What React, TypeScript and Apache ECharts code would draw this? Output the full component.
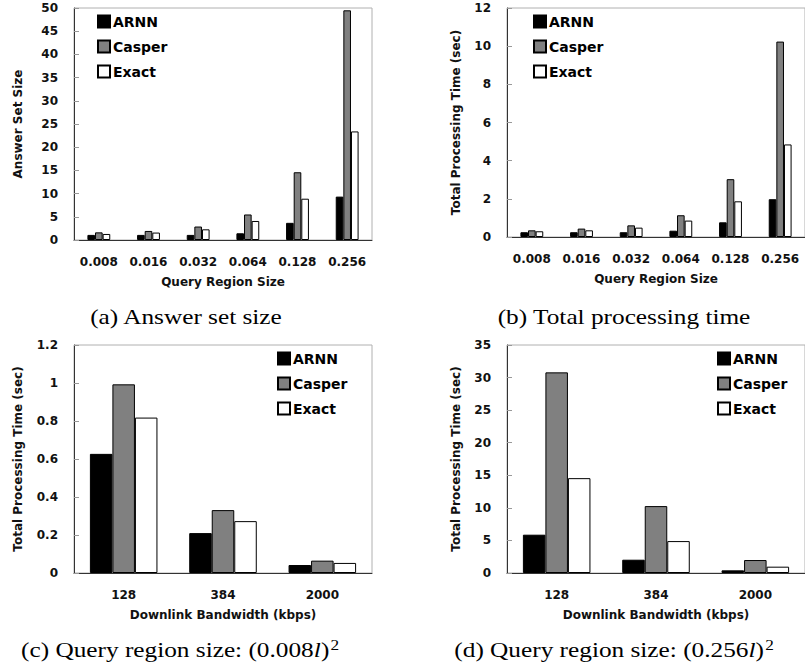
import React, { useEffect, useRef } from "react";
import * as echarts from "echarts";

const seriesNames = ["ARNN", "Casper", "Exact"];
const regionSizes = ["0.008", "0.016", "0.032", "0.064", "0.128", "0.256"];
const bandwidths = ["128", "384", "2000"];

// (a) Answer set size
const answerArnn = [1.1, 1.1, 1.1, 1.45, 3.7, 9.35];
const answerCasper = [1.65, 1.95, 2.9, 5.5, 14.6, 49.5];
const answerExact = [1.3, 1.6, 2.3, 4.1, 8.9, 23.4];

// (b) Total processing time vs region size
const timeArnn = [0.25, 0.25, 0.25, 0.33, 0.77, 1.98];
const timeCasper = [0.35, 0.44, 0.61, 1.14, 3.03, 10.24];
const timeExact = [0.3, 0.35, 0.49, 0.86, 1.87, 4.85];

// (c) region (0.008l)^2 vs bandwidth
const bwSmallArnn = [0.627, 0.21, 0.042];
const bwSmallCasper = [0.993, 0.331, 0.065];
const bwSmallExact = [0.818, 0.273, 0.053];

// (d) region (0.256l)^2 vs bandwidth
const bwLargeArnn = [5.88, 2.04, 0.41];
const bwLargeCasper = [30.8, 10.27, 1.99];
const bwLargeExact = [14.56, 4.9, 0.97];

const captions = [
  "(a) Answer set size",
  "(b) Total processing time",
  "(c) Query region size: (0.008{i|l}){s|2}",
  "(d) Query region size: (0.256{i|l}){s|2}",
];

const FONT = "DejaVu Sans";
const SERIF = "Liberation Serif";
const colors = ["#000000", "#808080", "#ffffff"];

export default function App() {
  const ref = useRef<HTMLDivElement>(null);
  useEffect(() => {
    if (!ref.current) return;
    const chart = echarts.init(ref.current, undefined, { renderer: "svg" });

    const grids = [
      { left: 74, top: 8, width: 298, height: 232 },
      { left: 507, top: 8, width: 298, height: 229 },
      { left: 74, top: 345, width: 298, height: 228 },
      { left: 507, top: 345, width: 298, height: 228 },
    ].map((g) => ({
      ...g,
      show: true,
      borderColor: "#b0b0b0",
      borderWidth: 1,
      containLabel: false,
    }));

    const xCats = [regionSizes, regionSizes, bandwidths, bandwidths];
    const xNames = [
      "Query Region Size",
      "Query Region Size",
      "Downlink Bandwidth (kbps)",
      "Downlink Bandwidth (kbps)",
    ];
    const yNames = [
      "Answer Set Size",
      "Total Processing Time (sec)",
      "Total Processing Time (sec)",
      "Total Processing Time (sec)",
    ];
    const yMax = [50, 12, 1.2, 35];
    const yInt = [5, 2, 0.2, 5];
    const yGap = [50, 45, 50, 45];
    const data = [
      [answerArnn, answerCasper, answerExact],
      [timeArnn, timeCasper, timeExact],
      [bwSmallArnn, bwSmallCasper, bwSmallExact],
      [bwLargeArnn, bwLargeCasper, bwLargeExact],
    ];
    const catGap = ["54%", "54%", "32%", "32%"];

    const xAxis = xCats.map((cats, i) => ({
      type: "category",
      gridIndex: i,
      data: cats,
      axisLine: { show: true, lineStyle: { color: "#333", width: 1 } },
      axisTick: { show: false },
      axisLabel: {
        margin: 16,
        fontFamily: FONT,
        fontWeight: "bold",
        fontSize: 12,
        color: "#111",
      },
      name: xNames[i],
      nameLocation: "middle",
      nameGap: 36,
      nameTextStyle: {
        fontFamily: FONT,
        fontWeight: "bold",
        fontSize: 12,
        color: "#111",
      },
    }));

    const yAxis = yMax.map((m, i) => ({
      type: "value",
      gridIndex: i,
      min: 0,
      max: m,
      interval: yInt[i],
      axisLine: { show: true, lineStyle: { color: "#333", width: 1 } },
      axisTick: {
        show: true,
        inside: true,
        length: 5,
        lineStyle: { color: "#999" },
      },
      splitLine: { show: false },
      axisLabel: {
        margin: 16,
        fontFamily: FONT,
        fontWeight: "bold",
        fontSize: 12,
        color: "#111",
        formatter: (v: number) => String(Math.round(v * 10) / 10),
      },
      name: yNames[i],
      nameLocation: "middle",
      nameGap: yGap[i],
      nameTextStyle: {
        fontFamily: FONT,
        fontWeight: "bold",
        fontSize: 12,
        color: "#111",
      },
    }));

    const series: any[] = [];
    data.forEach((group, gi) => {
      group.forEach((vals, si) => {
        series.push({
          type: "bar",
          name: seriesNames[si],
          xAxisIndex: gi,
          yAxisIndex: gi,
          data: vals,
          barGap: "0%",
          barCategoryGap: catGap[gi],
          itemStyle: {
            color: colors[si],
            borderColor: "#000",
            borderWidth: 1,
          },
        });
      });
    });

    const legendPos = [
      { left: 97, top: 12 },
      { left: 533, top: 12 },
      { left: 277, top: 349 },
      { left: 717, top: 349 },
    ];
    const legend = legendPos.map((p) => ({
      ...p,
      orient: "vertical",
      itemWidth: 12,
      itemHeight: 12,
      itemGap: 6,
      icon: "rect",
      padding: 0,
      data: seriesNames,
      textStyle: {
        fontFamily: FONT,
        fontWeight: "bold",
        fontSize: 14,
        color: "#000",
        padding: [0, 0, 0, -2],
        lineHeight: 19,
      },
    }));

    const capPos = [
      { x: 186, y: 317 },
      { x: 624, y: 317 },
      { x: 180, y: 650 },
      { x: 614, y: 650 },
    ];
    const graphic = captions.map((c, i) => ({
      type: "text",
      x: capPos[i].x,
      y: capPos[i].y,
      scaleX: 1.15,
      style: {
        text: c,
        fontFamily: SERIF,
        fontSize: 22,
        fill: "#000",
        align: "center",
        verticalAlign: "middle",
        rich: {
          i: {
            fontFamily: SERIF,
            fontStyle: "italic",
            fontSize: 22,
          },
          s: {
            fontFamily: SERIF,
            fontSize: 15,
            verticalAlign: "top",
            padding: [0, 0, 11, 1],
          },
        },
      },
    }));

    chart.setOption({
      animation: false,
      backgroundColor: "#fff",
      grid: grids,
      xAxis,
      yAxis,
      series,
      legend,
      graphic,
    });
    return () => chart.dispose();
  }, []);
  return (
    <div
      ref={ref}
      style={{ position: "fixed", left: 0, top: 0, width: 805, height: 671 }}
    />
  );
}
